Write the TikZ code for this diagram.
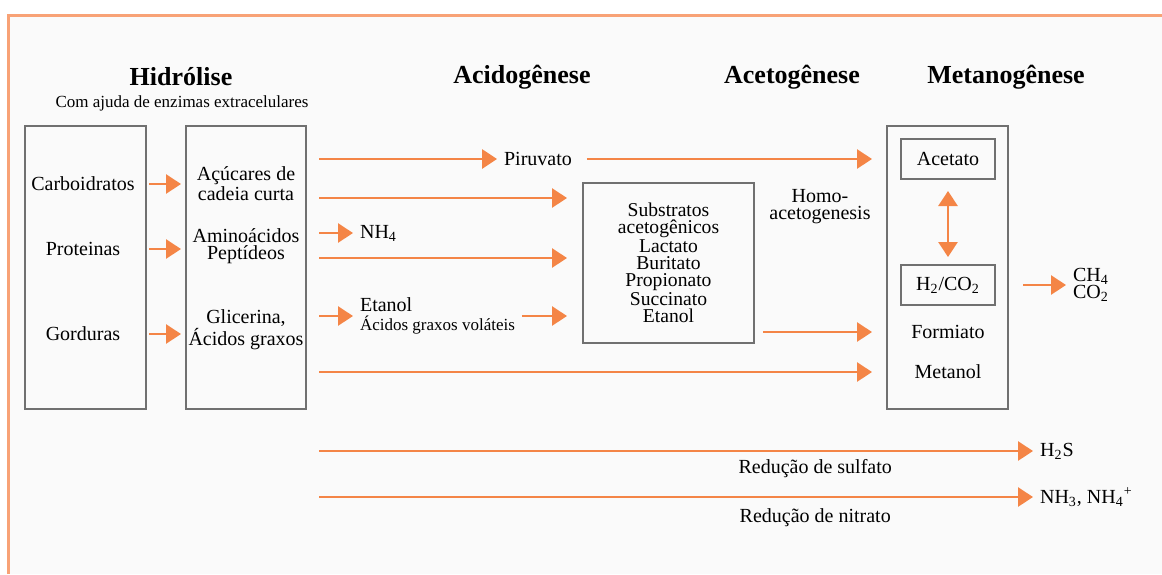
\documentclass[tikz,border=0pt]{standalone}
\usepackage{fontspec}
\setmainfont{Liberation Serif}
\usetikzlibrary{arrows.meta}
\definecolor{flowOrange}{RGB}{244,133,70}
\definecolor{frameOrange}{RGB}{248,162,118}
\definecolor{boxGray}{RGB}{112,112,112}
\definecolor{bgGray}{RGB}{250,250,250}
\begin{document}
\begin{tikzpicture}[
		x=0.5pt, y=-0.5pt,
		every node/.style={font=\fontsize{10}{8.5}\selectfont, align=center},
		box/.style={draw=boxGray, line width=1pt, inner sep=0pt},
		title/.style={font=\bfseries\fontsize{13}{15}\selectfont},
		flow/.style={draw=flowOrange, line width=1.4pt, -{Triangle[length=7.5pt, width=9.5pt]}}
	]
  \useasboundingbox (0,0) rectangle (1162,574);
  \fill[bgGray] (8,15) rectangle (1162,574);
  \draw[frameOrange, line width=1.5pt] (8,574) -- (8,15) -- (1162,15);
  % titles
  \node (t_hyd) [title] at (181,77) {Hidrólise};
  \node (t_enz) [font=\fontsize{8.5}{10}\selectfont] at (182,103) {Com ajuda de enzimas extracelulares};
  \node (t_acid) [title] at (522,77) {Acidogênese};
  \node (t_acet) [title] at (792,77) {Acetogênese};
  \node (t_meta) [title] at (1006,77) {Metanogênese};
  % boxes
  \node (src_box) [box, minimum width=60.5pt, minimum height=141.5pt] at (85.5,267.5) {};
  \node (hyd_box) [box, minimum width=60pt, minimum height=141.5pt] at (246,267.5) {};
  \node (sub_box) [box, minimum width=85.5pt, minimum height=80pt, font=\fontsize{9.8}{8.5}\selectfont] at (668.5,263) {Substratos\\acetogênicos\\Lactato\\Buritato\\Propionato\\Succinato\\Etanol};
  \node (met_box) [box, minimum width=60.5pt, minimum height=141.5pt] at (947.5,267.5) {};
  \node (acet) [box, minimum width=47pt, minimum height=20pt] at (948,159) {Acetato};
  \node (h2co2) [box, minimum width=47pt, minimum height=20pt] at (948,285) {H\textsubscript{2}/CO\textsubscript{2}};
  \node (form) at (948,332) {Formiato};
  \node (meth) at (948,372) {Metanol};
  % substrates
  \node (carb) at (83,184) {Carboidratos};
  \node (prot) at (83,249) {Proteinas};
  \node (gord) at (83,334) {Gorduras};
  \node (acuc) at (246,184) {Açúcares de\\cadeia curta};
  \node (amino) at (246,246) {Aminoácidos\\Peptídeos};
  \node (glic) at (246,330) {Glicerina,\\Ácidos graxos};
  % intermediates
  \node (piru) at (538,159) {Piruvato};
  \node (nh4) [anchor=west] at (353,233) {NH\textsubscript{4}};
  \node (vfa) [anchor=west, align=left] at (353,316) {Etanol\\[1pt]{\fontsize{8.5}{9}\selectfont Ácidos graxos voláteis}};
  \node (homo) at (820,207) {Homo-\\acetogenesis};
  \node (ch4) [anchor=west, align=left] at (1066,285) {CH\textsubscript{4}\\CO\textsubscript{2}};
  \node (h2s) [anchor=west] at (1033,451) {H\textsubscript{2}S};
  \node (nh3) [anchor=west] at (1033,497) {NH\textsubscript{3}, NH\textsubscript{4}\textsuperscript{+}};
  \coordinate (row_b) at (0,198);
  \coordinate (row_d) at (0,258);
  % arrows
  \foreach \n in {carb, prot, gord}
    \draw[flow, shorten <=1pt, shorten >=2pt] (src_box.east |- \n) -- (hyd_box.west |- \n);
  \draw[flow, shorten <=6pt] (hyd_box.east |- piru) -- (piru.west);
  \draw[flow, shorten <=4pt, shorten >=7pt] (piru.east) -- (met_box.west |- acet);
  \draw[flow, shorten <=6pt, shorten >=7.5pt] (hyd_box.east |- row_b) -- (sub_box.west |- row_b);
  \draw[flow, shorten <=6pt] (hyd_box.east |- nh4) -- (nh4.west);
  \draw[flow, shorten <=6pt, shorten >=7.5pt] (hyd_box.east |- row_d) -- (sub_box.west |- row_d);
  \draw[flow, shorten <=6pt] (hyd_box.east |- vfa) -- (vfa.west);
  \draw[flow, shorten >=7.5pt] (vfa.east) -- (sub_box.west |- vfa);
  \draw[flow, shorten <=4pt, shorten >=7pt] (sub_box.east |- form) -- (met_box.west |- form);
  \draw[flow, shorten <=6pt, shorten >=7pt] (hyd_box.east |- meth) -- (met_box.west |- meth);
  \draw[flow, {Triangle[length=7.5pt, width=9.5pt]}-{Triangle[length=7.5pt, width=9.5pt]}, shorten <=5.5pt, shorten >=3.5pt] (acet.south) -- (h2co2.north);
  \draw[flow, shorten <=7pt] (met_box.east |- h2co2) -- (ch4.west);
  \draw[flow, shorten <=6pt] (hyd_box.east |- h2s) -- (h2s.west)
    node (sulf) [pos=0.7, below=0pt] {Redução de sulfato};
  \draw[flow, shorten <=6pt] (hyd_box.east |- nh3) -- (nh3.west)
    node (nitr) [pos=0.7, below=2pt] {Redução de nitrato};
\end{tikzpicture}
\end{document}
